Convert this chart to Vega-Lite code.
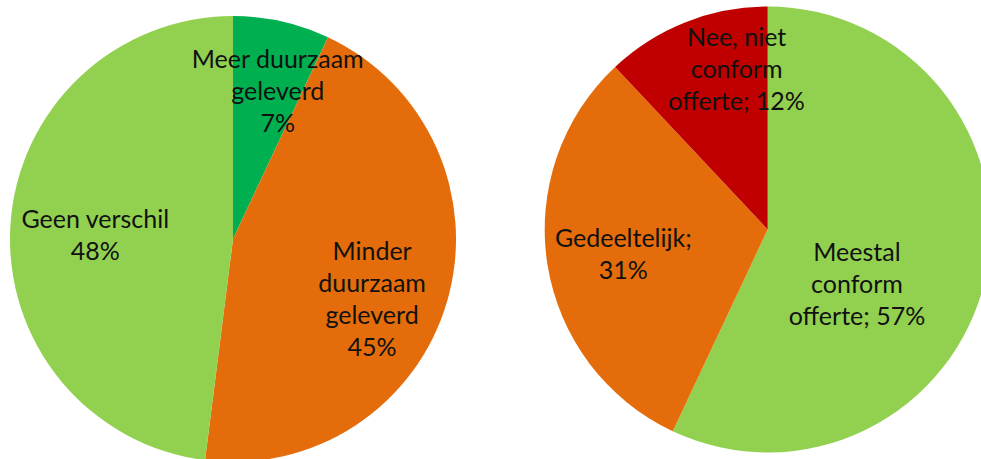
{
  "$schema": "https://vega.github.io/schema/vega-lite/v6.json",
  "padding": 0,
  "spacing": 0,
  "bounds": "flush",
  "background": "white",
  "config": {"view": {"stroke": null}},
  "resolve": {"scale": {"color": "independent", "theta": "independent"}},
  "datasets": {
    "duurzaam": [
      {"categorie": "Meer duurzaam geleverd", "label": "Meer duurzaam\ngeleverd\n7%", "aandeel": 7, "volgorde": 1},
      {"categorie": "Minder duurzaam geleverd", "label": "Minder\nduurzaam\ngeleverd\n45%", "aandeel": 45, "volgorde": 2},
      {"categorie": "Geen verschil", "label": "Geen verschil\n48%", "aandeel": 48, "volgorde": 3}
    ],
    "conform": [
      {"categorie": "Meestal conform offerte", "label": "Meestal\nconform\nofferte; 57%", "aandeel": 57, "volgorde": 1},
      {"categorie": "Gedeeltelijk", "label": "Gedeeltelijk;\n31%", "aandeel": 31, "volgorde": 2},
      {"categorie": "Nee, niet conform offerte", "label": "Nee, niet\nconform\nofferte; 12%", "aandeel": 12, "volgorde": 3}
    ]
  },
  "hconcat": [
    {
      "width": 466,
      "height": 459,
      "data": {"name": "duurzaam"},
      "encoding": {
        "theta": {"field": "aandeel", "type": "quantitative", "stack": true},
        "order": {"field": "volgorde", "type": "quantitative"}
      },
      "layer": [
        {
          "mark": {"type": "arc", "outerRadius": 223, "yOffset": 9.5},
          "encoding": {
            "color": {
              "field": "categorie", "type": "nominal", "legend": null,
              "scale": {"domain": ["Meer duurzaam geleverd", "Minder duurzaam geleverd", "Geen verschil"], "range": ["#00b050", "#e46c0a", "#92d050"]}
            }
          }
        },
        {
          "mark": {"type": "text", "radius": 150, "dx": 12, "dy": -23, "font": "Lato", "fontSize": 25, "lineHeight": 32, "lineBreak": "\n"},
          "encoding": {
            "text": {"condition": {"test": "datum.volgorde == 1", "field": "label"}, "value": ""},
            "color": {"value": "#111111"},
            "detail": {"field": "categorie", "type": "nominal"}
          }
        },
        {
          "mark": {"type": "text", "radius": 150, "dx": -5, "dy": -19.5, "font": "Lato", "fontSize": 25, "lineHeight": 32, "lineBreak": "\n"},
          "encoding": {
            "text": {"condition": {"test": "datum.volgorde == 2", "field": "label"}, "value": ""},
            "color": {"value": "#111111"},
            "detail": {"field": "categorie", "type": "nominal"}
          }
        },
        {
          "mark": {"type": "text", "radius": 140, "dx": 2, "dy": -0.5, "font": "Lato", "fontSize": 25, "lineHeight": 32, "lineBreak": "\n"},
          "encoding": {
            "text": {"condition": {"test": "datum.volgorde == 3", "field": "label"}, "value": ""},
            "color": {"value": "#111111"},
            "detail": {"field": "categorie", "type": "nominal"}
          }
        }
      ]
    },
    {
      "width": 515,
      "height": 459,
      "data": {"name": "conform"},
      "encoding": {
        "theta": {"field": "aandeel", "type": "quantitative", "stack": true},
        "order": {"field": "volgorde", "type": "quantitative"}
      },
      "layer": [
        {
          "mark": {"type": "arc", "outerRadius": 223, "xOffset": 44.2},
          "encoding": {
            "color": {
              "field": "categorie", "type": "nominal", "legend": null,
              "scale": {"domain": ["Meestal conform offerte", "Gedeeltelijk", "Nee, niet conform offerte"], "range": ["#92d050", "#e46c0a", "#c00000"]}
            }
          }
        },
        {
          "mark": {"type": "text", "radius": 105, "dx": 31, "dy": 1, "font": "Lato", "fontSize": 25, "lineHeight": 32, "lineBreak": "\n"},
          "encoding": {
            "text": {"condition": {"test": "datum.volgorde == 1", "field": "label"}, "value": ""},
            "color": {"value": "#111111"},
            "detail": {"field": "categorie", "type": "nominal"}
          }
        },
        {
          "mark": {"type": "text", "radius": 147, "dx": 45, "dy": -13.5, "font": "Lato", "fontSize": 25, "lineHeight": 32, "lineBreak": "\n"},
          "encoding": {
            "text": {"condition": {"test": "datum.volgorde == 2", "field": "label"}, "value": ""},
            "color": {"value": "#111111"},
            "detail": {"field": "categorie", "type": "nominal"}
          }
        },
        {
          "mark": {"type": "text", "radius": 160, "dx": 72, "dy": -43, "font": "Lato", "fontSize": 25, "lineHeight": 32, "lineBreak": "\n"},
          "encoding": {
            "text": {"condition": {"test": "datum.volgorde == 3", "field": "label"}, "value": ""},
            "color": {"value": "#111111"},
            "detail": {"field": "categorie", "type": "nominal"}
          }
        }
      ]
    }
  ]
}
